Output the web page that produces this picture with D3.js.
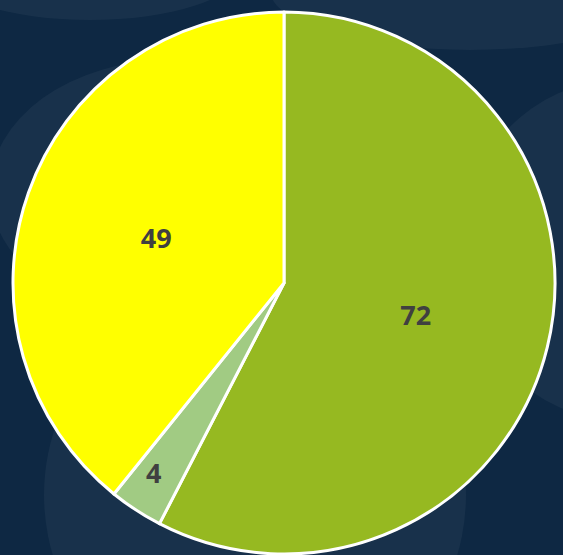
<!DOCTYPE html>
<html>
<head>
<meta charset="utf-8">
<script src="https://cdn.jsdelivr.net/npm/d3@7"></script>
<style>
  html, body { margin: 0; padding: 0; background: #0e2843; }
  svg { display: block; }
</style>
</head>
<body>
<div id="chart"></div>
<script>
// slice data, in drawing order (clockwise from 12 o'clock)
const categories = ["A", "B", "C"];
const values = [72, 4, 49];
const colors = ["#96b921", "#a1cb83", "#ffff00"];

const width = 563, height = 555;
const cx = 284, cy = 283, radius = 271;

const svg = d3.select("#chart").append("svg")
  .attr("width", width)
  .attr("height", height);

// background with soft lighter blobs
svg.append("rect").attr("width", width).attr("height", height).attr("fill", "#0e2843");
const blobs = svg.append("g").attr("fill", "#ffffff").attr("fill-opacity", 0.045);
blobs.append("ellipse").attr("cx", 470).attr("cy", -10).attr("rx", 200).attr("ry", 60);
blobs.append("ellipse").attr("cx", 90).attr("cy", -30).attr("rx", 150).attr("ry", 50);
blobs.append("ellipse").attr("cx", 170).attr("cy", 190).attr("rx", 180).attr("ry", 130);
blobs.append("ellipse").attr("cx", 620).attr("cy", 250).attr("rx", 160).attr("ry", 170);
blobs.append("circle").attr("cx", 255).attr("cy", 495).attr("r", 211);

const pie = d3.pie().sort(null).value(d => d.value);
const data = categories.map((c, i) => ({ name: c, value: values[i], color: colors[i] }));
const arcs = pie(data);

const arc = d3.arc().innerRadius(0).outerRadius(radius);

const g = svg.append("g").attr("transform", `translate(${cx},${cy})`);

g.selectAll("path")
  .data(arcs)
  .enter()
  .append("path")
  .attr("d", arc)
  .attr("fill", d => d.data.color)
  .attr("stroke", "#ffffff")
  .attr("stroke-width", 3)
  .attr("stroke-linejoin", "round");

// labels: half radius, pushed outward for thin slices
g.selectAll("text")
  .data(arcs)
  .enter()
  .append("text")
  .attr("transform", d => {
    const span = d.endAngle - d.startAngle;
    const r = span < 0.5 ? radius * 0.84 : radius * 0.5;
    const a = (d.startAngle + d.endAngle) / 2;
    return `translate(${Math.sin(a) * r},${-Math.cos(a) * r})`;
  })
  .attr("dx", d => (d.endAngle - d.startAngle) < 0.5 ? -6 : 0)
  .attr("text-anchor", "middle")
  .attr("dy", "0.36em")
  .attr("font-family", "'Open Sans', sans-serif")
  .attr("font-weight", "bold")
  .attr("font-size", "27px")
  .attr("fill", "#404040")
  .text(d => d.data.value);
</script>
</body>
</html>
